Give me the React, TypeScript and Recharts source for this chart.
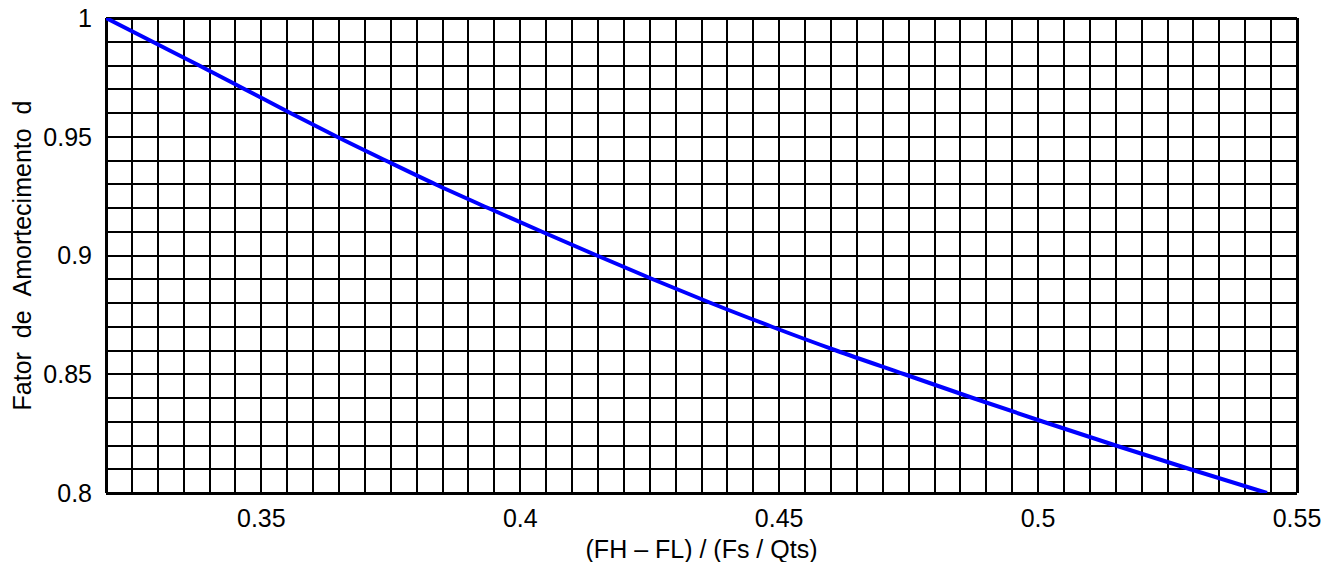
import React from 'react';
import { LineChart, Line, XAxis, YAxis, ReferenceLine } from 'recharts';

// Damping factor d (y) vs (FH - FL)/(Fs/Qts) (x)
const dampingValues = [1.0, 0.99, 0.98, 0.97, 0.96, 0.95, 0.94, 0.93, 0.92, 0.91, 0.9, 0.89, 0.88, 0.87, 0.86, 0.85, 0.84, 0.83, 0.82, 0.81, 0.8];
const ratioValues = [0.32, 0.329, 0.338, 0.3468, 0.3556, 0.3646, 0.374, 0.3836, 0.3938, 0.4042, 0.4148, 0.4256, 0.4368, 0.4486, 0.461, 0.4742, 0.4874, 0.501, 0.515, 0.5294, 0.5442];

const xTicks = [0.35, 0.4, 0.45, 0.5, 0.55];
const yTicks = [0.8, 0.85, 0.9, 0.95, 1];
const xDomain: [number, number] = [0.32, 0.55];
const yDomain: [number, number] = [0.8, 1];
const xGridStep = 0.005;
const yGridStep = 0.01;

const xLabel = '(FH \u2013 FL) / (Fs / Qts)';
const yLabel = 'Fator\u00A0\u00A0de\u00A0\u00A0Amortecimento\u00A0\u00A0d';

const data = ratioValues.map((x, i) => ({ x, d: dampingValues[i] }));

const gridValues = (lo: number, hi: number, step: number) => {
  const out: number[] = [];
  const n = Math.round((hi - lo) / step);
  for (let i = 0; i <= n; i++) out.push(+(lo + i * step).toFixed(4));
  return out;
};
const xGrid = gridValues(xDomain[0], xDomain[1], xGridStep);
const yGrid = gridValues(yDomain[0], yDomain[1], yGridStep);

const FONT = '"Liberation Sans", Arial, Helvetica, sans-serif';
const FS = 25;
const tickStyle = { fontFamily: FONT, fontSize: FS, fill: '#000' };

const isEdge = (v: number, dom: [number, number]) => Math.abs(v - dom[0]) < 1e-9 || Math.abs(v - dom[1]) < 1e-9;

export default function App() {
  return (
    <div style={{ position: 'absolute', left: 0, top: 0, background: '#fff' }}>
      <LineChart width={1340} height={562} data={data} margin={{ top: 18, right: 43, bottom: 0, left: 0 }}>
        <XAxis
          type="number"
          dataKey="x"
          domain={xDomain}
          ticks={xTicks}
          allowDataOverflow
          axisLine={false}
          tickLine={false}
          height={69}
          tickMargin={10}
          tick={tickStyle}
          label={{
            content: (props: any) => {
              const vb = props.viewBox || {};
              return (
                <text
                  x={vb.x + vb.width / 2}
                  y={558}
                  textAnchor="middle"
                  style={{ fontFamily: FONT, fontSize: FS, fill: '#000' }}
                >
                  {xLabel}
                </text>
              );
            },
          }}
        />
        <YAxis
          type="number"
          dataKey="d"
          domain={yDomain}
          ticks={yTicks}
          allowDataOverflow
          axisLine={false}
          tickLine={false}
          width={106}
          tickMargin={8}
          tick={tickStyle}
          label={{
            content: (props: any) => {
              const vb = props.viewBox || {};
              const cy = vb.y + vb.height / 2;
              return (
                <text
                  x={31}
                  y={cy}
                  textAnchor="middle"
                  transform={`rotate(-90, 31, ${cy})`}
                  style={{ fontFamily: FONT, fontSize: FS, fill: '#000' }}
                >
                  {yLabel}
                </text>
              );
            },
          }}
        />
        {xGrid.map((v) => (
          <ReferenceLine
            key={'vx' + v}
            x={v}
            stroke="#000"
            strokeWidth={isEdge(v, xDomain) ? 3 : 2}
            shapeRendering="crispEdges"
            ifOverflow="visible"
          />
        ))}
        {yGrid.map((v) => (
          <ReferenceLine
            key={'hy' + v}
            y={v}
            stroke="#000"
            strokeWidth={isEdge(v, yDomain) ? 3 : 2}
            shapeRendering="crispEdges"
            ifOverflow="visible"
          />
        ))}
        <Line
          type="monotone"
          dataKey="d"
          stroke="#0000ff"
          strokeWidth={4}
          dot={false}
          isAnimationActive={false}
        />
      </LineChart>
    </div>
  );
}
